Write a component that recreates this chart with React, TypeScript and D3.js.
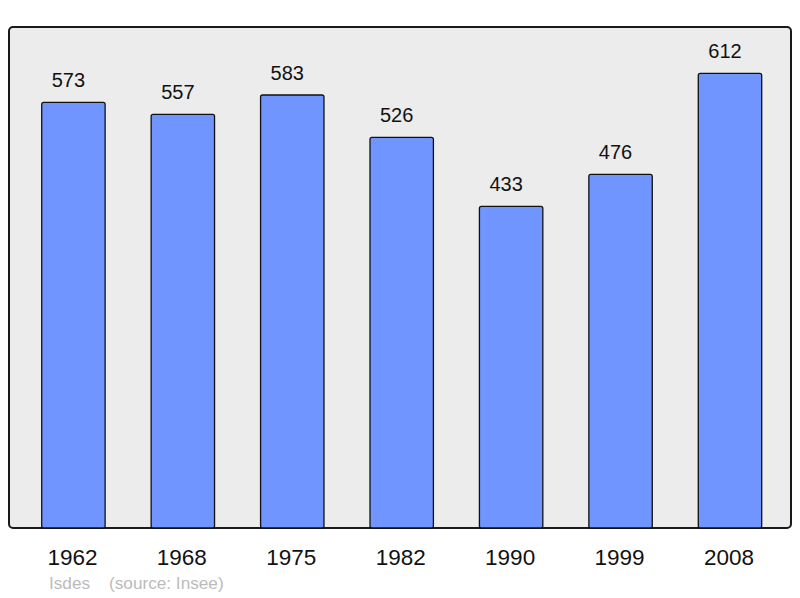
import React from "react";
import * as d3 from "d3";

const years = ["1962", "1968", "1975", "1982", "1990", "1999", "2008"];
const population = [573, 557, 583, 526, 433, 476, 612];
const author = "Isdes";
const source = "(source: Insee)";

export default function App() {
  const W = 800;
  const H = 598;
  const frame = { x0: 9, y0: 27, x1: 791, y1: 528 };
  const x = d3
    .scaleBand<string>()
    .domain(years)
    .range([18.7, 784.7])
    .paddingInner(0.4206)
    .paddingOuter(0.2103);
  const yMax = (d3.max(population) as number) * 1.1;
  const y = d3.scaleLinear().domain([0, yMax]).range([frame.y1, frame.y0 + 1]);
  const font = "'Liberation Sans', Arial, sans-serif";

  return (
    <svg
      width={W}
      height={H}
      style={{ position: "absolute", left: 0, top: 0, background: "#fff" }}
    >
      <rect
        x={frame.x0}
        y={frame.y0}
        width={frame.x1 - frame.x0}
        height={frame.y1 - frame.y0}
        rx={4}
        fill="#ececec"
        stroke="#1a1a1a"
        strokeWidth={2}
      />
      {years.map((yr, i) => {
        const v = population[i];
        const bx = x(yr) as number;
        const bw = x.bandwidth();
        const top = y(v);
        return (
          <g key={yr}>
            <rect
              x={bx}
              y={top}
              width={bw}
              height={frame.y1 - top}
              rx={2}
              fill="#7095ff"
              stroke="#111"
              strokeWidth={1.3}
            />
            <text
              x={bx + bw / 2 - 5}
              y={top - 15}
              textAnchor="middle"
              fontFamily={font}
              fontSize={20}
              fill="#111"
            >
              {v}
            </text>
            <text
              x={bx + bw / 2 - 1}
              y={565}
              textAnchor="middle"
              fontFamily={font}
              fontSize={22.5}
              fill="#111"
            >
              {yr}
            </text>
          </g>
        );
      })}
      <text x={49} y={589} fontFamily={font} fontSize={17.2} fill="#bbbbbb">
        {author}
      </text>
      <text x={109} y={589} fontFamily={font} fontSize={17.2} fill="#bbbbbb">
        {source}
      </text>
    </svg>
  );
}
